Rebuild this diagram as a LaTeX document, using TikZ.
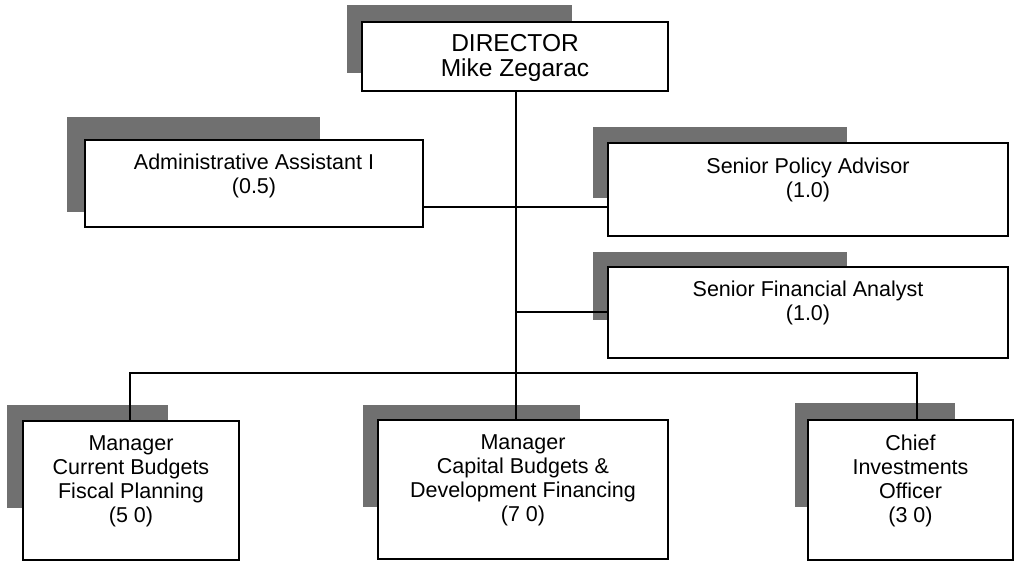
\documentclass[tikz,border=0pt]{standalone}
\usepackage{fontspec}
\setmainfont{Liberation Sans}
\usetikzlibrary{calc}
\begin{document}
\begin{tikzpicture}[x=1bp,y=-1bp,
  orgbox/.style={draw=black, fill=white, line width=1.7bp, inner sep=0pt},
  boxtext/.style={align=center, inner sep=0pt, font=\fontsize{21.5bp}{24bp}\selectfont},
  bigtext/.style={align=center, inner sep=0pt, font=\fontsize{24.5bp}{25bp}\selectfont},
  shade/.style={fill=black!56, draw=none},
  link/.style={draw=black, line width=1.7bp}]
\useasboundingbox (0,0) rectangle (1026,566);

% offset grey shadows behind the boxes
\fill[shade] (347,5) rectangle (572,73);
\fill[shade] (67,117) rectangle (320,212);
\fill[shade] (593,127) rectangle (847,198);
\fill[shade] (593,252) rectangle (847,320);
\fill[shade] (7,405) rectangle (168,508);
\fill[shade] (363,405) rectangle (580,507);
\fill[shade] (795,403) rectangle (955,507);

% boxes
\node[orgbox, minimum width=306bp, minimum height=69bp] (dir) at (515,56.5) {};
\node[orgbox, minimum width=338bp, minimum height=87bp] (adm) at (254,183.5) {};
\node[orgbox, minimum width=400bp, minimum height=93bp] (spa) at (808,189.5) {};
\node[orgbox, minimum width=400bp, minimum height=91bp] (sfa) at (808,312.5) {};
\node[orgbox, minimum width=216bp, minimum height=139bp] (mcb) at (131,490.5) {};
\node[orgbox, minimum width=290bp, minimum height=139bp] (mcap) at (523,489.5) {};
\node[orgbox, minimum width=205bp, minimum height=140bp] (cio) at (910.5,490) {};

% box texts
\node[bigtext] (tdir) at ($(dir.center)+(0,1)$) {DIRECTOR\\Mike Zegarac};
\node[boxtext] (tadm) at ($(adm.center)+(0,-8)$) {Administrative Assistant I\\(0.5)};
\node[boxtext] (tspa) at ($(spa.center)+(0,-10)$) {Senior Policy Advisor\\(1.0)};
\node[boxtext] (tsfa) at ($(sfa.center)+(0,-10)$) {Senior Financial Analyst\\(1.0)};
\node[boxtext] (tmcb) at ($(mcb.center)+(0,-9)$) {Manager\\Current Budgets\\Fiscal Planning\\(5 0)};
\node[boxtext] (tmcap) at ($(mcap.center)+(0,-9)$) {Manager\\Capital Budgets \&\\Development Financing\\(7 0)};
\node[boxtext] (tcio) at ($(cio.center)+(0,-9)$) {Chief\\Investments\\Officer\\(3 0)};

% junction points on the trunk
\coordinate (jadm) at (516,207);
\coordinate (jsfa) at (516,312);
\coordinate (bus) at (516,373);
\coordinate (dcb) at (130,373);
\coordinate (dcio) at (917,373);

% connectors
\draw[link] (dir.south -| bus) -- (bus) -- (bus |- mcap.north);
\draw[link] (adm.east |- jadm) -- (spa.west |- jadm);
\draw[link] (jsfa) -- (sfa.west |- jsfa);
\draw[link] (dcb |- mcb.north) -- (dcb) -- (dcio) -- (dcio |- cio.north);
\end{tikzpicture}
\end{document}
